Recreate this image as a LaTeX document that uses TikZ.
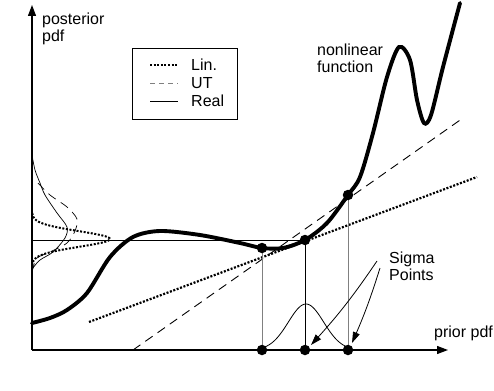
\documentclass[tikz,border=0pt]{standalone}
\usepackage{fontspec}
\setmainfont{Liberation Sans}
\usetikzlibrary{arrows.meta}

\begin{document}
\begin{tikzpicture}[x=1pt, y=-1pt,
        axis/.style={line width=1.2pt, -{Triangle[length=11pt,width=8pt]}},
        fcurve/.style={line width=3.9pt, line cap=round},
        lindot/.style={line width=2.2pt, dash pattern=on 2pt off 1.6pt},
        utdash/.style={line width=0.9pt, dash pattern=on 9pt off 6pt},
        realline/.style={line width=0.9pt},
        sigmadot/.style={circle, fill=black, inner sep=0pt, minimum size=10.5pt},
        txt/.style={font=\fontsize{16}{17}\selectfont, align=left, inner sep=0pt},
        pointer/.style={line width=0.8pt, -{Triangle[length=11pt,width=7pt]}},
        ]
            \useasboundingbox (0,0) rectangle (494,390);

            % axes
            \coordinate (o) at (32,350);
            \coordinate (ytip) at (32,5);
            \coordinate (xtip) at (448,350);
            \draw[axis] (o) -- (ytip) ;
            \draw[axis] (o) -- (xtip) ;

            \node[txt, anchor=west] at (42,29) (posttxt) {posterior\\pdf};
            \node[txt, anchor=west] at (434,333) (priortxt) {prior pdf};
            \node[txt, anchor=west] at (317,58) (nltxt) {nonlinear\\function};
            \node[txt, anchor=west] at (389,266) (sigtxt) {Sigma\\Points};

            % legend
            \node[draw, line width=0.9pt, minimum width=105pt, minimum height=71pt, anchor=north west] at (132,48) (legend) {};
            \coordinate (la1) at (150,65);  \coordinate (lb1) at (178,65);
            \coordinate (la2) at (150,83);  \coordinate (lb2) at (178,83);
            \coordinate (la3) at (150,101); \coordinate (lb3) at (178,101);
            \draw[lindot, line width=1.8pt] (la1) -- (lb1) ;
            \draw[utdash, gray, dash pattern=on 5pt off 4pt] (la2) -- (lb2) ;
            \draw[realline] (la3) -- (lb3) ;
            \node[txt, anchor=west] at (191,65) (lintxt) {Lin.};
            \node[txt, anchor=west] at (191,83) (uttxt) {UT};
            \node[txt, anchor=west] at (191,101) (realtxt) {Real};

            % sigma points
            \coordinate (c1) at (262,248);
            \coordinate (c2) at (305,240);
            \coordinate (c3) at (348,195);
            \coordinate (a1) at (262,350);
            \coordinate (a2) at (305,350);
            \coordinate (a3) at (348,350);
            \coordinate (h0) at (32,240);

            % linearisations
            \coordinate (ut0) at (133,350);
            \coordinate (ut1) at (463,118);
            \coordinate (lin0) at (89,322);
            \coordinate (lin1) at (477,177);
            \draw[utdash] (ut0) -- (ut1) ;
            \draw[lindot] (lin0) -- (lin1) ;

            \draw[realline] (h0) -- (c2) ;
            \draw[gray, line width=0.8pt] (c1) -- (a1) ;
            \draw[line width=0.8pt] (c2) -- (a2) ;
            \draw[gray, line width=0.8pt] (c3) -- (a3) ;

            % prior pdf
            \draw[line width=0.8pt] plot[domain=262:348, samples=50] (\x, {350-46*exp(-((\x-306)/25)^2)}) ;

            % posterior pdfs
            \draw[lindot, line width=2pt] plot[domain=213:265, samples=50] ({32+78*exp(-((\x-239)/11)^2)}, \x) ;
            \draw[realline, line width=0.7pt] plot[smooth] coordinates {(32,155) (35,170) (40,183) (45,195) (57,213) (67,227) (65,238) (53,252) (40,260) (33,268) (32,272)} ;
            \draw[utdash, line width=0.7pt] plot[smooth] coordinates {(38,183) (50,195) (67,207) (77,219) (75,231) (67,243) (50,252) (37,258) (33,268) (32,272)} ;

            % nonlinear function
            \draw[fcurve] plot[smooth] coordinates {(32,323) (50,318) (67,310) (87,293) (110,257) (133,237) (160,231) (200,235) (240,243) (c1) (283,248) (c2) (327,223) (c3) (360,177) (373,133) (387,77) (399,47) (410,60) (417,100) (424,123) (431,115) (443,67) (460,3)} ;

            \node[sigmadot] at (c1) (s1) {};
            \node[sigmadot] at (c2) (s2) {};
            \node[sigmadot] at (c3) (s3) {};
            \node[sigmadot] at (a1) (p1) {};
            \node[sigmadot] at (a2) (p2) {};
            \node[sigmadot] at (a3) (p3) {};

            \draw[pointer] ([shift={(-12,-5)}]sigtxt.west) to[bend left=4] ([shift={(6,-5)}]p2.center) ;
            \draw[pointer] ([shift={(-9,2)}]sigtxt.west) to[bend left=3] ([shift={(4,-7)}]p3.center) ;

            \end{tikzpicture}
\end{document}
